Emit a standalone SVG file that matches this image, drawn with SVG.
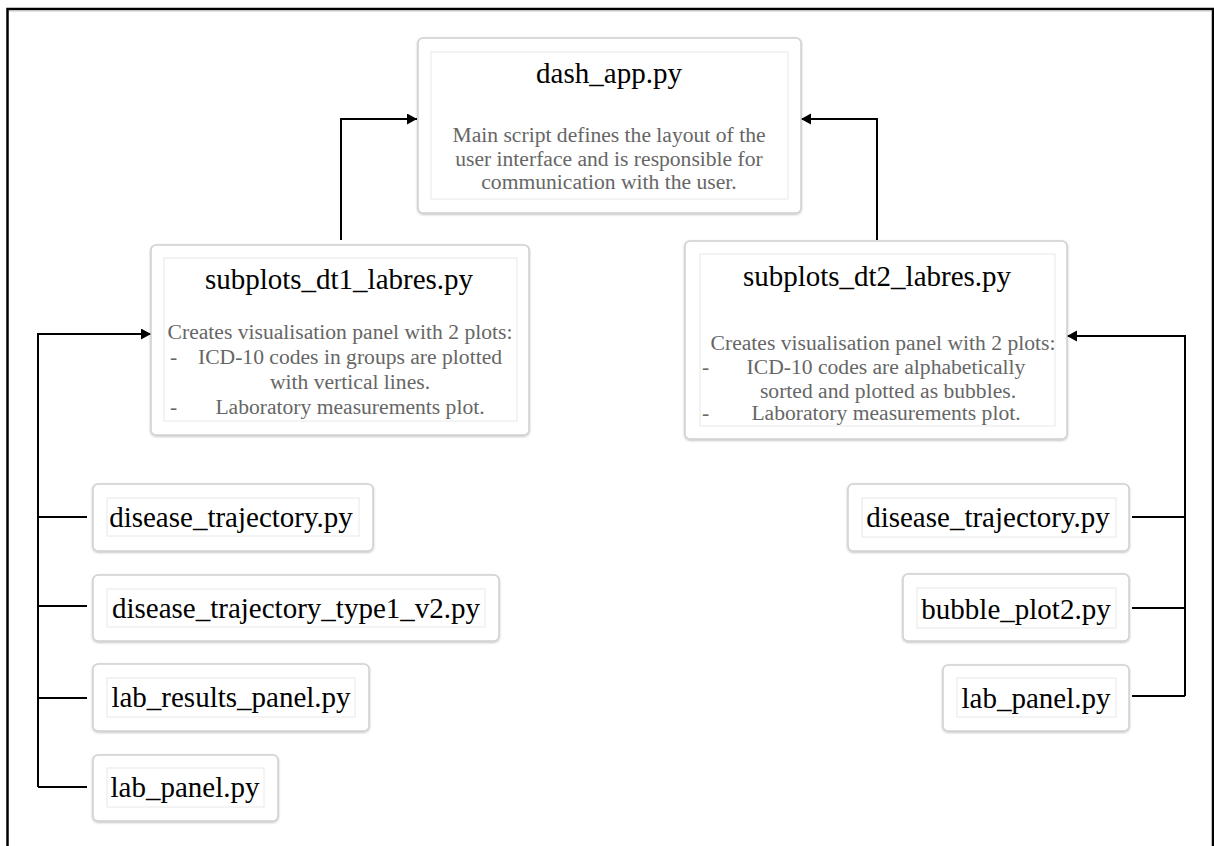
<svg xmlns="http://www.w3.org/2000/svg" width="1214" height="846" viewBox="0 0 1214 846">
<style>
.outer{fill:#fff;stroke:#cfcfcf;stroke-width:1.5;filter:url(#sh)}
.inner{fill:#fff;stroke:#e8e8e8;stroke-width:1}
.title{font-family:"Liberation Serif","Times New Roman",serif;font-size:29px;fill:#000;text-anchor:middle}
.desc{font-family:"Liberation Serif","Times New Roman",serif;font-size:21.6px;fill:#666;text-anchor:middle}
.dash{font-family:"Liberation Serif","Times New Roman",serif;font-size:21.6px;fill:#666}
.conn{fill:none;stroke:#000;stroke-width:2}
</style>
<defs>
<filter id="sh" x="-10%" y="-10%" width="120%" height="130%">
<feDropShadow dx="0" dy="1" stdDeviation="1.2" flood-color="#000" flood-opacity="0.25"/>
</filter>
<marker id="arr" markerWidth="11" markerHeight="12" refX="10" refY="5.5" orient="auto" markerUnits="userSpaceOnUse">
<path d="M0,0 L10,5.5 L0,11 Z" fill="#000"/>
</marker>
</defs>
<rect width="1214" height="846" fill="#fff"/>
<path d="M7.5,846 V9 H1213 V846" fill="none" stroke="#000" stroke-width="2.5"/>
<line x1="9" y1="11" x2="1212" y2="11" stroke="#c8c8c8" stroke-width="1"/>

<g id="connectors">
<path class="conn" d="M341,240 V119 H417" marker-end="url(#arr)"/>
<path class="conn" d="M877,240 V119 H801" marker-end="url(#arr)"/>
<path class="conn" d="M38,787 V334 H151" marker-end="url(#arr)"/>
<path class="conn" d="M38,517 H87"/>
<path class="conn" d="M38,606 H87"/>
<path class="conn" d="M38,698 H87"/>
<path class="conn" d="M38,787 H87"/>
<path class="conn" d="M1185,696 V336 H1067" marker-end="url(#arr)"/>
<path class="conn" d="M1132,517 H1185"/>
<path class="conn" d="M1132,608 H1185"/>
<path class="conn" d="M1132,696 H1185"/>
</g>

<g id="dash_app">
<rect class="outer" x="418" y="38" width="383" height="175" rx="5"/>
<rect class="inner" x="431" y="52" width="357" height="147"/>
<text class="title" x="609" y="83">dash_app.py</text>
<text class="desc" x="609" y="142">Main script defines the layout of the</text>
<text class="desc" x="609" y="166">user interface and is responsible for</text>
<text class="desc" x="609" y="189">communication with the user.</text>
</g>

<g id="subplots_dt1">
<rect class="outer" x="151" y="245" width="378" height="190" rx="5"/>
<rect class="inner" x="164" y="258" width="353" height="163"/>
<text class="title" x="339" y="289">subplots_dt1_labres.py</text>
<text class="desc" x="340" y="339">Creates visualisation panel with 2 plots:</text>
<text class="dash" x="170" y="364">-</text>
<text class="desc" x="350" y="364">ICD-10 codes in groups are plotted</text>
<text class="desc" x="350" y="389">with vertical lines.</text>
<text class="dash" x="170" y="414">-</text>
<text class="desc" x="350" y="414">Laboratory measurements plot.</text>
</g>

<g id="subplots_dt2">
<rect class="outer" x="685" y="241" width="382" height="198" rx="5"/>
<rect class="inner" x="700" y="254" width="355" height="172"/>
<text class="title" x="877" y="286">subplots_dt2_labres.py</text>
<text class="desc" x="883" y="350">Creates visualisation panel with 2 plots:</text>
<text class="dash" x="702" y="374">-</text>
<text class="desc" x="886" y="374">ICD-10 codes are alphabetically</text>
<text class="desc" x="888" y="398">sorted and plotted as bubbles.</text>
<text class="dash" x="702" y="420">-</text>
<text class="desc" x="886" y="420">Laboratory measurements plot.</text>
</g>

<g id="disease_trajectory_left">
<rect class="outer" x="93" y="484" width="280" height="67" rx="5"/>
<rect class="inner" x="107" y="498" width="252" height="38"/>
<text class="title" x="231" y="527">disease_trajectory.py</text>
</g>

<g id="disease_trajectory_type1_v2">
<rect class="outer" x="93" y="575" width="406" height="66" rx="5"/>
<rect class="inner" x="107" y="589" width="378" height="38"/>
<text class="title" x="296" y="618">disease_trajectory_type1_v2.py</text>
</g>

<g id="lab_results_panel">
<rect class="outer" x="93" y="664" width="276" height="67" rx="5"/>
<rect class="inner" x="107" y="678" width="248" height="39"/>
<text class="title" x="231" y="707">lab_results_panel.py</text>
</g>

<g id="lab_panel_left">
<rect class="outer" x="93" y="755" width="185" height="66" rx="5"/>
<rect class="inner" x="107" y="768" width="157" height="39"/>
<text class="title" x="185" y="797">lab_panel.py</text>
</g>

<g id="disease_trajectory_right">
<rect class="outer" x="848" y="484" width="281" height="67" rx="5"/>
<rect class="inner" x="862" y="498" width="254" height="39"/>
<text class="title" x="988" y="527">disease_trajectory.py</text>
</g>

<g id="bubble_plot2">
<rect class="outer" x="903" y="574" width="226" height="67" rx="5"/>
<rect class="inner" x="917" y="588" width="199" height="40"/>
<text class="title" x="1016" y="619">bubble_plot2.py</text>
</g>

<g id="lab_panel_right">
<rect class="outer" x="943" y="665" width="186" height="66" rx="5"/>
<rect class="inner" x="957" y="678" width="159" height="39"/>
<text class="title" x="1036" y="708">lab_panel.py</text>
</g>
</svg>
